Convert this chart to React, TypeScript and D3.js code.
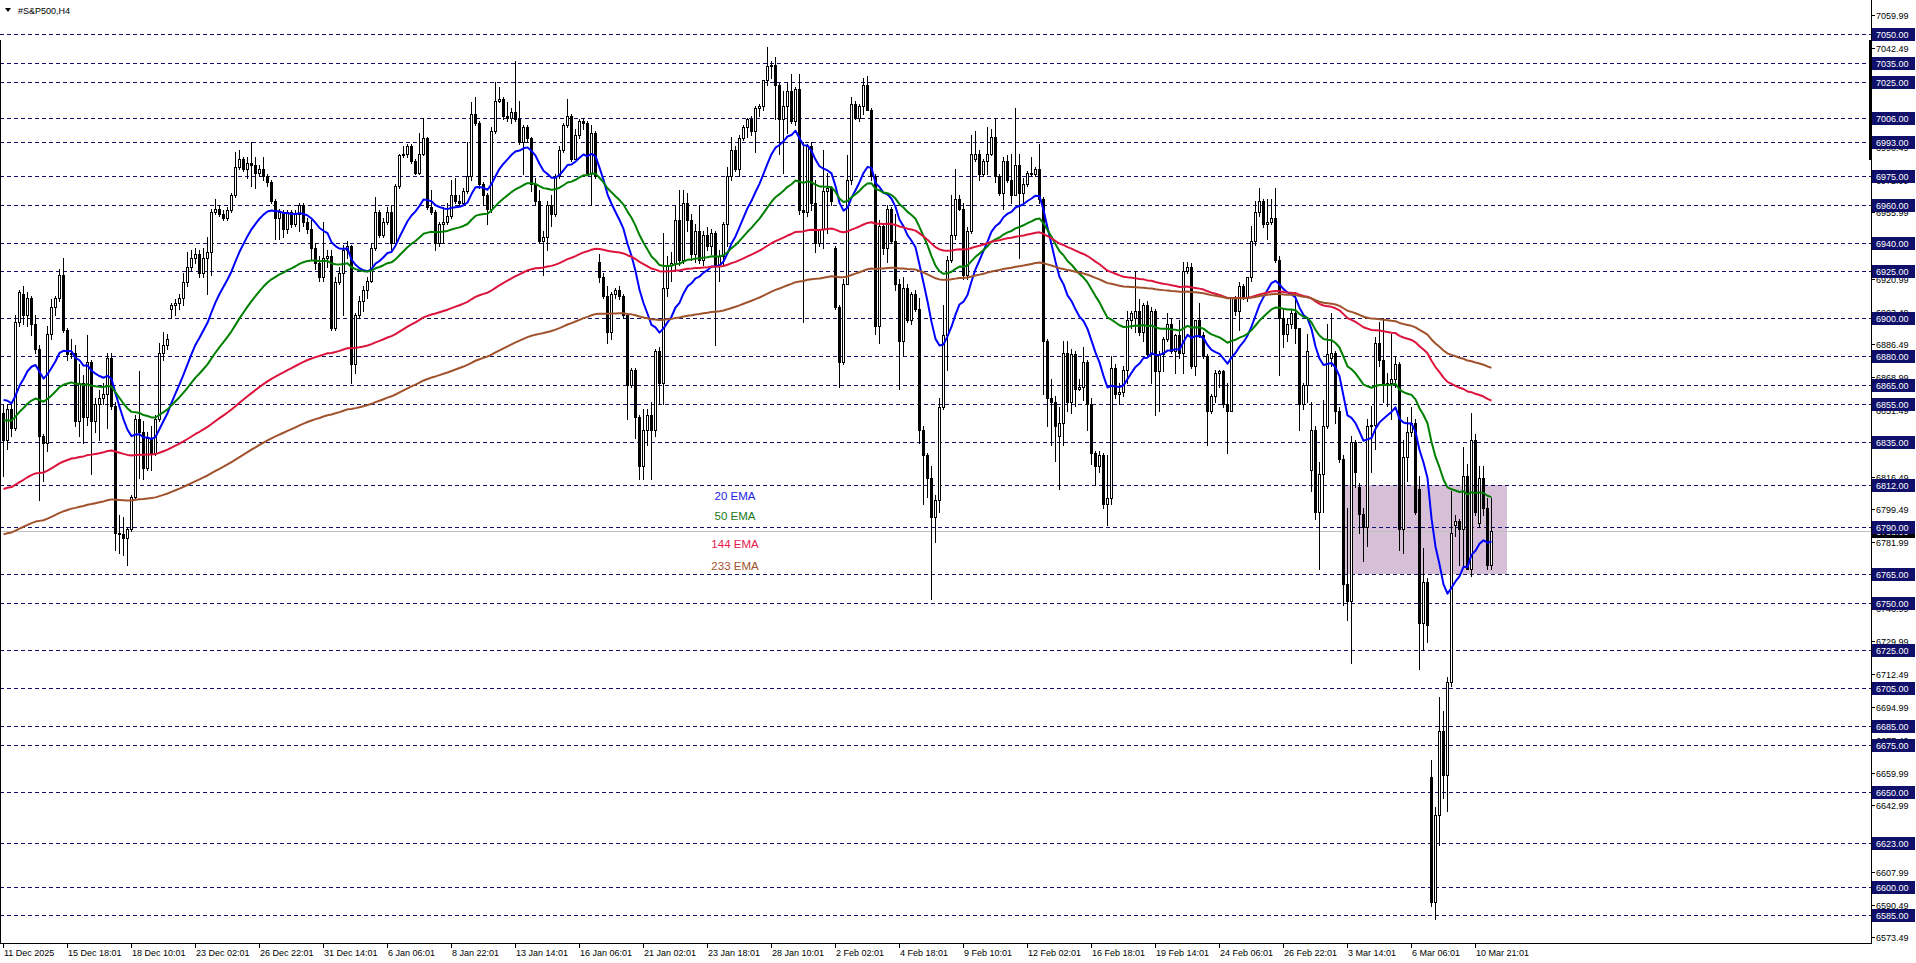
import React from 'react';
import * as d3 from 'd3';

type Bar = [number, number, number, number]; // open, high, low, close

const candlesDec: Bar[] = [
  [6850,6855,6817,6836],[6836,6855,6831,6852],[6852,6856,6838,6842],[6842,6902,6841,6898],[6898,6915,6896,6914],
  [6913,6917,6897,6902],[6902,6914,6896,6911],[6911,6912,6891,6897],[6897,6902,6882,6884],[6884,6886,6804,6838],
  [6838,6839,6814,6834],[6834,6896,6830,6892],[6892,6910,6889,6906],[6906,6912,6902,6911],[6911,6926,6909,6923],
  [6923,6932,6893,6894],[6894,6895,6878,6881],[6881,6889,6879,6882],[6882,6886,6843,6846],[6846,6876,6838,6866],
  [6866,6870,6834,6848],[6848,6891,6844,6877],[6877,6878,6818,6846],[6846,6858,6840,6855],[6855,6862,6836,6858],
  [6858,6866,6855,6860],[6860,6882,6842,6879],[6879,6882,6852,6854],[6854,6856,6778,6787],[6787,6796,6776,6786],
  [6786,6795,6775,6784],[6784,6790,6770,6789],[6789,6807,6788,6806],[6806,6849,6805,6847],[6847,6872,6816,6840],
  [6840,6846,6815,6821],[6821,6840,6820,6837],[6837,6843,6820,6829],[6829,6849,6828,6847],[6847,6887,6846,6882],
  [6882,6893,6878,6886],[6886,6892,6884,6889],[6905,6908,6900,6907],[6907,6910,6902,6908],[6908,6913,6905,6911],
  [6911,6924,6907,6919],[6919,6935,6917,6927],[6927,6936,6925,6932],[6932,6937,6929,6934],[6934,6936,6922,6924],
  [6924,6937,6922,6932],[6932,6943,6913,6935],[6935,6958,6923,6956],[6956,6963,6955,6958],[6958,6960,6954,6955],
  [6955,6957,6952,6953],[6953,6959,6952,6957],[6957,6966,6956,6965],[6965,6988,6964,6980],[6980,6989,6979,6984],
  [6984,6985,6978,6979],[6979,6985,6974,6982],[6982,6993,6970,6981],[6981,6985,6969,6977],[6977,6981,6975,6979],
  [6979,6985,6973,6975],[6975,6976,6970,6972],[6972,6973,6961,6962],[6962,6963,6942,6953],[6953,6958,6942,6956],
  [6956,6957,6943,6947],[6947,6957,6945,6956],[6956,6957,6948,6950],[6950,6957,6949,6955],[6955,6961,6946,6960],
  [6960,6961,6949,6951],[6951,6953,6945,6947],[6947,6952,6931,6937],[6937,6940,6926,6929],[6929,6933,6920,6922],
  [6922,6951,6920,6932],[6932,6936,6927,6933],[6933,6936,6894,6895],[6895,6922,6894,6919],[6919,6927,6918,6924],
  [6924,6939,6902,6936],[6936,6941,6932,6938],[6938,6939,6866,6876],
];

const candlesJan: Bar[] = [
  [6876,6903,6871,6902],[6902,6912,6900,6909],[6909,6917,6904,6915],[6915,6922,6911,6920],[6920,6940,6919,6937],
  [6937,6964,6936,6956],[6956,6957,6943,6944],[6944,6953,6943,6951],[6951,6959,6950,6956],[6956,6960,6935,6940],
  [6940,6971,6938,6970],[6970,6987,6969,6986],[6986,6991,6985,6987],[6987,6992,6985,6991],[6991,6992,6982,6983],
  [6983,6984,6976,6977],[6977,6998,6976,6987],[6987,7006,6986,6995],[6995,6996,6958,6959],[6959,6968,6955,6956],
  [6956,6957,6936,6940],[6940,6951,6938,6950],[6950,6959,6940,6951],[6951,6961,6950,6954],[6954,6973,6953,6965],
  [6965,6974,6961,6962],[6962,6965,6960,6961],[6961,6969,6960,6967],[6967,6993,6966,6975],[6975,7014,6973,7008],
  [7008,7017,7002,7003],[7003,7004,6969,6971],[6971,6972,6960,6965],[6965,6966,6950,6958],[6958,7001,6956,6999],
  [6999,7025,6998,7015],[7015,7022,7014,7016],[7016,7017,7005,7007],[7007,7014,7004,7006],[7006,7011,7003,7009],
  [7009,7036,7004,7005],[7005,7015,6992,6993],[6993,7002,6976,7001],[7001,7002,6993,6995],[6995,6996,6967,6971],
  [6971,6974,6960,6962],[6962,6968,6940,6941],[6941,6946,6923,6943],[6943,6962,6936,6960],[6960,6965,6949,6955],
  [6955,6976,6954,6975],[6975,6991,6974,6989],[6989,7003,6988,7002],[7002,7016,7001,7007],[7007,7008,6983,6984],
  [6984,7000,6984,6997],[6997,7005,6995,7004],[7004,7006,7000,7003],[7003,7004,6976,6977],[6977,7002,6960,6998],
  [6998,6999,6974,6975],[6930,6934,6919,6922],[6922,6924,6911,6912],[6912,6917,6887,6893],[6893,6914,6889,6913],
  [6913,6916,6911,6915],[6915,6917,6910,6912],[6912,6913,6900,6902],[6902,6903,6847,6865],[6865,6874,6864,6873],
  [6873,6874,6837,6848],[6848,6849,6815,6822],[6822,6852,6815,6841],[6841,6852,6833,6849],[6849,6856,6815,6841],
  [6841,6884,6838,6883],[6883,6885,6855,6866],[6866,6945,6855,6916],[6916,6933,6912,6928],[6928,6935,6920,6929],
  [6929,6960,6926,6952],[6952,6968,6928,6931],[6931,6968,6929,6961],[6961,6966,6946,6952],[6952,6955,6931,6934],
  [6934,6950,6930,6946],[6946,6960,6929,6931],[6931,6946,6928,6944],[6944,6948,6936,6938],[6938,6947,6934,6945],
  [6945,6946,6886,6928],[6928,6936,6920,6933],[6933,6951,6928,6950],[6950,6980,6938,6975],[6975,6996,6973,6989],
  [6989,6991,6978,6979],[6979,6997,6975,6995],[6995,7002,6994,7001],[7001,7006,6996,7005],[7005,7007,6997,6999],
  [6999,7012,6988,7011],[7011,7013,7007,7012],[7012,7026,7010,7026],[7026,7043,7023,7033],[7033,7036,7027,7034],
  [7034,7038,7005,7023],[7023,7024,6987,7005],[7005,7020,6977,7012],[7012,7024,6998,7020],[7020,7029,7003,7004],
  [7004,7022,7002,7021],[7021,7029,6955,6957],[6957,6993,6898,6956],[6956,6992,6954,6991],[6991,6993,6957,6961],
  [6961,6973,6935,6940],[6940,6947,6938,6947],[6947,6989,6937,6967],[6967,6977,6945,6969],[6969,6970,6960,6962],
];

const candlesFeb: Bar[] = [
  [6937,6938,6905,6906],[6906,6907,6864,6877],[6877,6921,6876,6918],[6918,6986,6918,6973],[6973,7017,6971,7013],
  [7013,7015,7005,7006],[7006,7013,7004,7012],[7012,7027,7008,7023],[7023,7028,7010,7010],[7010,7011,6973,6975],
  [6975,6976,6892,6896],[6896,6952,6887,6949],[6949,6950,6934,6937],[6937,6960,6930,6958],[6958,6959,6940,6941],
  [6941,6955,6915,6918],[6918,6921,6863,6888],[6888,6922,6880,6916],[6916,6918,6898,6899],[6899,6914,6897,6913],
  [6913,6915,6904,6905],[6905,6911,6834,6841],[6841,6843,6802,6828],[6828,6829,6806,6816],[6816,6822,6752,6795],
  [6795,6807,6782,6804],[6804,6858,6798,6853],[6853,6907,6852,6891],[6891,6933,6873,6931],[6931,6965,6930,6944],
  [6944,6979,6942,6963],[6963,6965,6957,6958],[6958,6961,6921,6923],[6923,6948,6921,6946],[6946,6997,6945,6987],
  [6984,6999,6983,6987],[6987,6989,6973,6976],[6976,6984,6975,6983],[6983,7001,6976,6987],[6987,7000,6986,6996],
  [6996,7006,6972,6975],[6975,6976,6965,6966],[6966,6985,6958,6983],[6983,6986,6972,6973],[6973,6987,6961,6965],
  [6965,7011,6965,6981],[6981,6987,6932,6966],[6966,6974,6961,6971],[6971,6978,6970,6977],[6977,6985,6975,6976],
  [6976,6980,6975,6979],[6979,6992,6961,6963],[6963,6964,6860,6888],[6888,6889,6843,6858],[6858,6868,6833,6856],
  [6856,6859,6825,6843],[6838,6853,6810,6845],[6845,6888,6833,6882],[6882,6888,6851,6856],[6856,6884,6850,6881],
  [6881,6883,6854,6863],[6863,6868,6862,6864],[6864,6885,6857,6877],[6877,6878,6841,6855],[6855,6858,6823,6829],
  [6829,6830,6812,6822],[6822,6830,6819,6828],[6828,6829,6800,6802],[6802,6828,6791,6805],[6805,6880,6802,6874],
  [6874,6876,6858,6860],[6860,6866,6855,6861],[6861,6875,6859,6873],[6873,6904,6866,6899],[6899,6904,6895,6903],
  [6900,6925,6893,6904],[6904,6910,6891,6893],[6893,6908,6888,6907],[6907,6909,6880,6881],[6881,6906,6866,6904],
  [6904,6905,6849,6872],[6872,6883,6851,6881],[6881,6890,6872,6889],[6889,6903,6888,6897],[6897,6900,6882,6883],
  [6883,6892,6871,6891],[6891,6899,6879,6882],[6882,6930,6871,6925],[6925,6930,6924,6927],[6927,6929,6874,6875],
  [6875,6899,6870,6899],[6899,6908,6890,6891],[6891,6893,6879,6880],[6880,6881,6833,6851],[6851,6860,6850,6859],
  [6859,6873,6856,6871],[6871,6873,6864,6872],[6872,6873,6853,6855],[6855,6866,6829,6851],[6851,6911,6851,6911],
  [6911,6912,6902,6904],[6904,6919,6894,6917],[6917,6918,6910,6911],[6911,6922,6909,6922],[6922,6949,6920,6941],
  [6941,6962,6939,6956],[6956,6969,6954,6962],[6962,6963,6948,6950],[6950,6963,6942,6951],[6951,6963,6950,6953],
  [6953,6969,6930,6931],[6931,6933,6870,6900],[6900,6905,6885,6892],[6892,6900,6888,6897],[6897,6905,6895,6903],
  [6903,6914,6887,6895],[6895,6895,6841,6855],[6855,6866,6852,6865],[6865,6892,6856,6883],
];

const candlesMar: Bar[] = [
  [6820,6856,6809,6841],[6841,6843,6794,6798],[6798,6824,6768,6818],[6818,6857,6798,6843],[6843,6897,6842,6881],
  [6879,6903,6875,6882],[6882,6883,6845,6851],[6851,6853,6824,6826],[6826,6828,6749,6760],[6760,6800,6741,6751],
  [6751,6838,6718,6835],[6835,6836,6811,6819],[6811,6813,6787,6797],[6797,6800,6772,6790],[6790,6847,6780,6843],
  [6843,6854,6819,6844],[6844,6890,6831,6887],[6887,6898,6875,6878],[6878,6900,6856,6865],[6865,6871,6854,6866],
  [6866,6892,6847,6868],[6868,6880,6864,6876],[6876,6877,6778,6789],[6789,6836,6776,6827],[6827,6848,6814,6840],
  [6840,6853,6838,6845],[6845,6847,6797,6798],[6810,6817,6715,6739],[6739,6779,6725,6761],[6761,6763,6729,6738],
  [6658,6667,6590,6592],[6592,6642,6583,6638],[6638,6700,6622,6682],[6682,6693,6647,6659],[6659,6711,6640,6708],
  [6708,6809,6706,6787],[6791,6796,6785,6793],[6793,6794,6770,6789],[6789,6832,6770,6817],[6817,6823,6768,6768],
  [6768,6850,6764,6836],[6836,6839,6796,6798],[6792,6822,6790,6816],[6816,6822,6796,6800],[6800,6805,6768,6770],
  [6770,6805,6768,6788],
];

const timeLabels = [
  '11 Dec 2025','15 Dec 18:01','18 Dec 10:01','23 Dec 02:01','26 Dec 22:01','31 Dec 14:01',
  '6 Jan 06:01','8 Jan 22:01','13 Jan 14:01','16 Jan 06:01','21 Jan 02:01','23 Jan 18:01',
  '28 Jan 10:01','2 Feb 02:01','4 Feb 18:01','9 Feb 10:01','12 Feb 02:01','16 Feb 18:01',
  '19 Feb 14:01','24 Feb 06:01','26 Feb 22:01','3 Mar 14:01','6 Mar 06:01','10 Mar 21:01',
];
const barsPerLabel = 16;

const levelLines = [7050, 7035, 7025, 7006, 6993, 6975, 6960, 6940, 6925, 6900, 6880, 6865, 6855, 6835,
  6812, 6790, 6765, 6750, 6725, 6705, 6685, 6675, 6650, 6623, 6600, 6585];

const scaleTicks = [7059.99, 7042.49, 7024.99, 7007.49, 6990.49, 6972.99, 6955.99, 6938.49, 6920.99,
  6903.49, 6886.49, 6868.99, 6851.49, 6833.99, 6816.49, 6799.49, 6781.99, 6764.49, 6746.99, 6729.99,
  6712.49, 6694.99, 6677.49, 6659.99, 6642.99, 6625.49, 6607.99, 6590.49, 6573.49];

const emaPeriods = [20, 50, 144, 233];
const emaSeeds = [6857, 6846, 6810, 6786];
const emaColors = ['#0000ff', '#008000', '#dc143c', '#a0522d'];
const emaTextColors = ['#2323e6', '#1a7a1a', '#e6194b', '#a0522d'];
const emaLabels = ['20 EMA', '50 EMA', '144 EMA', '233 EMA'];
const emaLabelPrices = [6806.5, 6795.5, 6781, 6769.5];
const emaLabelBar = 183;

const zoneBars = [335, 376];
const zonePrices = [6812, 6765];

const FONT = '"Liberation Sans", Arial, sans-serif';
const NAVY = '#10106a';

export default function App() {
  const bars: Bar[] = [...candlesDec, ...candlesJan, ...candlesFeb, ...candlesMar];
  const W = 1916, H = 963;
  const plotRight = 1871, plotBottom = 943;
  const x = d3.scaleLinear().domain([0, 1]).range([3, 7]);
  const y = d3.scaleLinear().domain([6570.35, 7068.05]).range([plotBottom, 0]);
  const ry = (v: number) => Math.round(y(v));

  const closes = bars.map(b => b[3]);
  const emas = emaPeriods.map((p, k) => {
    const a = 2 / (p + 1);
    const out: number[] = [];
    closes.forEach((c, i) => out.push(i === 0 ? emaSeeds[k] : out[i - 1] + a * (c - out[i - 1])));
    return out;
  });
  const line = d3.line<number>().x((_, i) => x(i) + 0.5).y(d => y(d));
  const lastClose = closes[closes.length - 1];

  return (
    <svg width={W} height={H} style={{ position: 'fixed', left: 0, top: 0, display: 'block', background: '#fff' }}
      fontFamily={FONT}>
      <rect x={0} y={0} width={W} height={H} fill="#fff" />
      {/* zone */}
      <rect x={x(zoneBars[0])} y={ry(zonePrices[0])} width={x(zoneBars[1]) - x(zoneBars[0])}
        height={ry(zonePrices[1]) - ry(zonePrices[0])} fill="#d8bfd8" />
      {/* horizontal levels */}
      {levelLines.map(v => (
        <line key={'l' + v} x1={0} x2={plotRight} y1={ry(v) + 0.5} y2={ry(v) + 0.5}
          stroke={NAVY} strokeWidth={1} strokeDasharray="4,3" shapeRendering="crispEdges" />
      ))}
      {/* bid line */}
      <line x1={0} x2={plotRight} y1={ry(lastClose) + 0.5} y2={ry(lastClose) + 0.5} stroke="#c0c0c0" strokeWidth={1}
        shapeRendering="crispEdges" />
      {/* candles */}
      <g shapeRendering="crispEdges">
        {bars.map((b, i) => {
          const [o, h, l, c] = b;
          const cx = Math.round(x(i));
          const top = ry(Math.max(o, c));
          const bot = ry(Math.min(o, c));
          const up = c >= o;
          return (
            <g key={i}>
              <rect x={cx} y={ry(h)} width={1} height={Math.max(1, ry(l) - ry(h) + 1)} fill="#000" />
              {up ? (
                bot - top >= 1 ? (
                  <rect x={cx - 0.5} y={top + 0.5} width={2} height={bot - top} fill="#fff" stroke="#000" strokeWidth={1} />
                ) : (
                  <rect x={cx - 1} y={top} width={3} height={1} fill="#000" />
                )
              ) : (
                <rect x={cx - 1} y={top} width={3} height={Math.max(1, bot - top + 1)} fill="#000" />
              )}
            </g>
          );
        })}
      </g>
      {/* EMAs */}
      {emas.map((e, k) => (
        <path key={'e' + k} d={line(e) || ''} fill="none" stroke={emaColors[k]} strokeWidth={2} strokeLinejoin="round" />
      ))}
      {/* EMA text labels */}
      {emaLabels.map((t, k) => (
        <text key={'t' + k} x={x(emaLabelBar)} y={y(emaLabelPrices[k]) + 4} textAnchor="middle" fontSize={11.5}
          fill={emaTextColors[k]}>{t}</text>
      ))}
      {/* frame */}
      <rect x={0} y={40} width={1} height={plotBottom - 40} fill="#000" />
      <rect x={plotRight} y={0} width={1} height={plotBottom + 1} fill="#000" />
      <rect x={0} y={plotBottom} width={plotRight + 1} height={1} fill="#000" />
      <rect x={plotRight - 2} y={40} width={3} height={120} fill="#000" />
      {/* x axis */}
      {timeLabels.map((t, k) => {
        const px = Math.round(x(k * barsPerLabel));
        return (
          <g key={'x' + k}>
            <rect x={px} y={plotBottom} width={1} height={5} fill="#000" />
            <text x={px + 1} y={plotBottom + 13} fontSize={9} fill="#000">{t}</text>
          </g>
        );
      })}
      {/* y axis ticks */}
      {scaleTicks.map(v => (
        <g key={'s' + v}>
          <rect x={plotRight + 1} y={ry(v)} width={3} height={1} fill="#000" />
          <text x={plotRight + 5} y={ry(v) + 3.5} fontSize={9} fill="#000">{v.toFixed(2)}</text>
        </g>
      ))}
      {/* bid label */}
      <rect x={plotRight + 1} y={ry(lastClose) - 6} width={43} height={13} fill="#000" />
      <text x={plotRight + 5} y={ry(lastClose) + 3.5} fontSize={9} fill="#fff">{lastClose.toFixed(2)}</text>
      {/* level labels */}
      {levelLines.map(v => (
        <g key={'lv' + v}>
          <rect x={plotRight + 1} y={ry(v) - 6} width={43} height={13} fill={NAVY} />
          <text x={plotRight + 5} y={ry(v) + 3.5} fontSize={9} fill="#fff">{v.toFixed(2)}</text>
        </g>
      ))}
      {/* title */}
      <path d="M5,8 L11,8 L8,12 Z" fill="#000" />
      <text x={18} y={14} fontSize={9} fill="#000">#S&amp;P500,H4</text>
    </svg>
  );
}
